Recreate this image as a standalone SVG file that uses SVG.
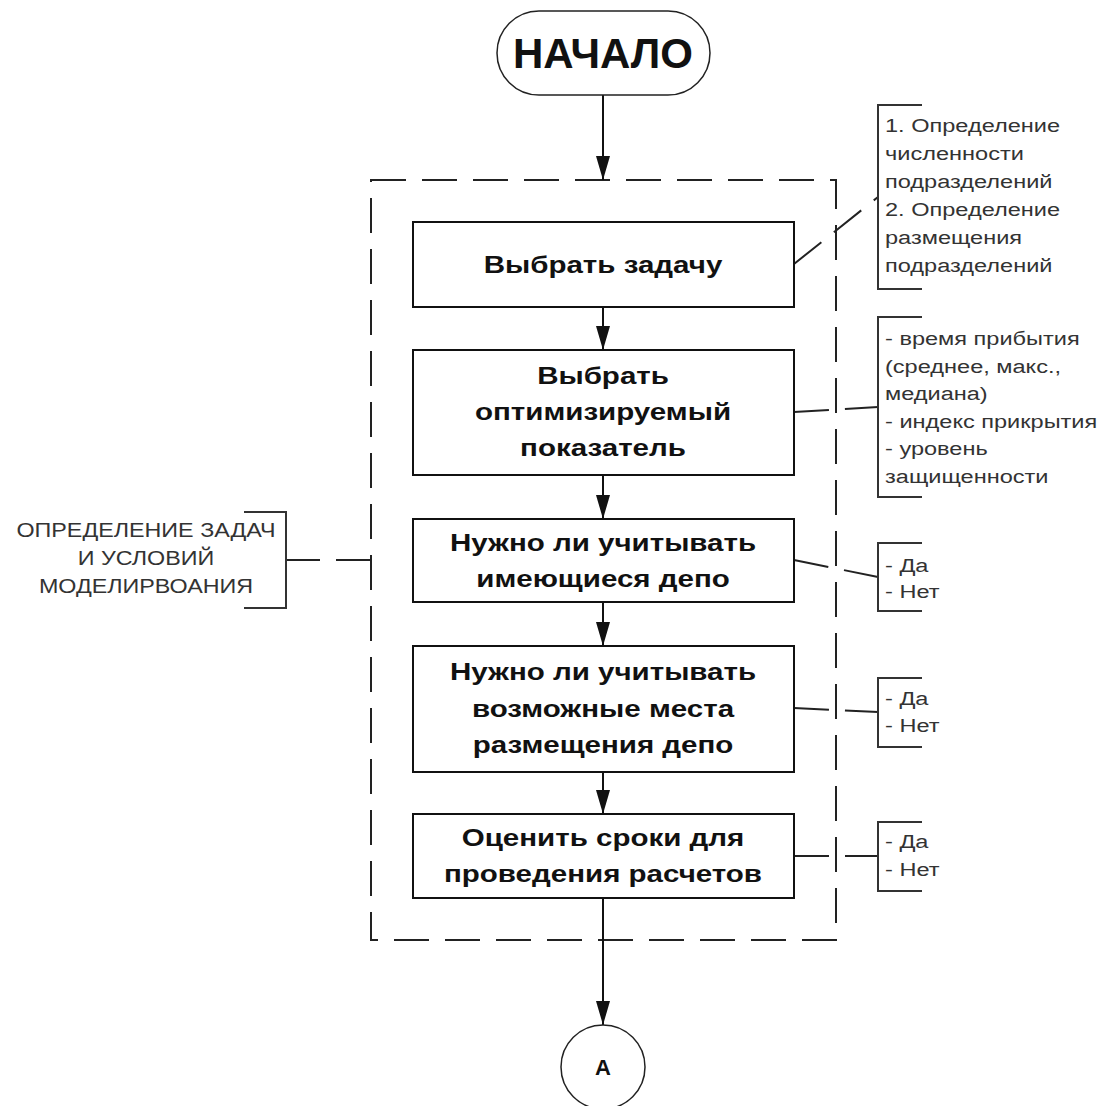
<svg xmlns="http://www.w3.org/2000/svg" width="1106" height="1106" viewBox="0 0 1106 1106">
<style>
.box{fill:#fff;stroke:#111;stroke-width:2}
.bt{font-family:"Liberation Sans",Arial,sans-serif;font-weight:bold;font-size:24px;fill:#111;text-anchor:middle}
.at{font-family:"Liberation Sans",Arial,sans-serif;font-size:19px;fill:#333}
.lt{font-family:"Liberation Sans",Arial,sans-serif;font-size:21px;fill:#333;text-anchor:middle}
.br{fill:none;stroke:#333;stroke-width:2}
.flow{fill:none;stroke:#111;stroke-width:2}
.dash{fill:none;stroke:#222;stroke-width:2;stroke-dasharray:35 16}
</style>
<defs>
<marker id="ah" markerUnits="userSpaceOnUse" markerWidth="24" markerHeight="14" refX="24" refY="7" orient="auto">
<path d="M0,0 L24,7 L0,14 z" fill="#111"/>
</marker>
</defs>
<rect width="1106" height="1106" fill="#fff"/>
<g id="group-frame">
<rect x="371" y="180" width="465" height="760" class="dash"/>
</g>
<g id="connectors">
<line x1="603" y1="95" x2="603" y2="180" class="flow" marker-end="url(#ah)"/>
<line x1="603" y1="307" x2="603" y2="350" class="flow" marker-end="url(#ah)"/>
<line x1="603" y1="475" x2="603" y2="519" class="flow" marker-end="url(#ah)"/>
<line x1="603" y1="602" x2="603" y2="646" class="flow" marker-end="url(#ah)"/>
<line x1="603" y1="772" x2="603" y2="814" class="flow" marker-end="url(#ah)"/>
<line x1="603" y1="898" x2="603" y2="1025" class="flow" marker-end="url(#ah)"/>
<line x1="794" y1="264" x2="878" y2="197" class="dash"/>
<line x1="794" y1="412" x2="878" y2="407" class="dash"/>
<line x1="794" y1="560" x2="878" y2="577" class="dash"/>
<line x1="794" y1="708" x2="878" y2="712" class="dash"/>
<line x1="794" y1="856" x2="878" y2="856" class="dash"/>
<line x1="371" y1="560" x2="286" y2="560" class="dash"/>
</g>
<g id="start">
<rect x="497" y="11" width="213" height="84" rx="42" ry="42" fill="#fff" stroke="#222" stroke-width="1.5"/>
<text x="603" y="68" class="bt" style="font-size:42px">НАЧАЛО</text>
</g>
<g id="step1">
<rect x="413" y="222" width="381" height="85" class="box"/>
<g transform="translate(603,0) scale(1.23,1)"><text x="0" y="273" class="bt">Выбрать задачу</text></g>
</g>
<g id="step2">
<rect x="413" y="350" width="381" height="125" class="box"/>
<g transform="translate(603,0) scale(1.23,1)">
<text x="0" y="384" class="bt">Выбрать</text>
<text x="0" y="420" class="bt">оптимизируемый</text>
<text x="0" y="456" class="bt">показатель</text>
</g>
</g>
<g id="step3">
<rect x="413" y="519" width="381" height="83" class="box"/>
<g transform="translate(603,0) scale(1.23,1)">
<text x="0" y="551" class="bt">Нужно ли учитывать</text>
<text x="0" y="587" class="bt">имеющиеся депо</text>
</g>
</g>
<g id="step4">
<rect x="413" y="646" width="381" height="126" class="box"/>
<g transform="translate(603,0) scale(1.23,1)">
<text x="0" y="680" class="bt">Нужно ли учитывать</text>
<text x="0" y="717" class="bt">возможные места</text>
<text x="0" y="753" class="bt">размещения депо</text>
</g>
</g>
<g id="step5">
<rect x="413" y="814" width="381" height="84" class="box"/>
<g transform="translate(603,0) scale(1.23,1)">
<text x="0" y="846" class="bt">Оценить сроки для</text>
<text x="0" y="882" class="bt">проведения расчетов</text>
</g>
</g>
<g id="end">
<circle cx="603" cy="1067" r="42" fill="#fff" stroke="#222" stroke-width="1.5"/>
<text x="603" y="1075" class="bt" style="font-size:22px">А</text>
</g>
<g id="note1">
<path d="M922,105 H878 V289 H922" class="br"/>
<g transform="translate(885,0) scale(1.24,1)">
<text class="at"><tspan x="0" y="132">1. Определение</tspan><tspan x="0" y="160">численности</tspan><tspan x="0" y="188">подразделений</tspan><tspan x="0" y="216">2. Определение</tspan><tspan x="0" y="244">размещения</tspan><tspan x="0" y="272">подразделений</tspan></text>
</g>
</g>
<g id="note2">
<path d="M922,317 H878 V497 H922" class="br"/>
<g transform="translate(885,0) scale(1.24,1)">
<text class="at"><tspan x="0" y="345">- время прибытия</tspan><tspan x="0" y="373">(среднее, макс.,</tspan><tspan x="0" y="400">медиана)</tspan><tspan x="0" y="428">- индекс прикрытия</tspan><tspan x="0" y="455">- уровень</tspan><tspan x="0" y="483">защищенности</tspan></text>
</g>
</g>
<g id="note3">
<path d="M922,543 H878 V611 H922" class="br"/>
<g transform="translate(885,0) scale(1.24,1)">
<text class="at"><tspan x="0" y="572">- Да</tspan><tspan x="0" y="598">- Нет</tspan></text>
</g>
</g>
<g id="note4">
<path d="M922,678 H878 V747 H922" class="br"/>
<g transform="translate(885,0) scale(1.24,1)">
<text class="at"><tspan x="0" y="705">- Да</tspan><tspan x="0" y="732">- Нет</tspan></text>
</g>
</g>
<g id="note5">
<path d="M922,822 H878 V891 H922" class="br"/>
<g transform="translate(885,0) scale(1.24,1)">
<text class="at"><tspan x="0" y="848">- Да</tspan><tspan x="0" y="876">- Нет</tspan></text>
</g>
</g>
<g id="note-left">
<path d="M244,512 H286 V608 H244" class="br"/>
<g transform="translate(146,0) scale(1.11,1)">
<text class="lt"><tspan x="0" y="537">ОПРЕДЕЛЕНИЕ ЗАДАЧ</tspan><tspan x="0" y="565">И УСЛОВИЙ</tspan><tspan x="0" y="593">МОДЕЛИРВОАНИЯ</tspan></text>
</g>
</g>
</svg>
